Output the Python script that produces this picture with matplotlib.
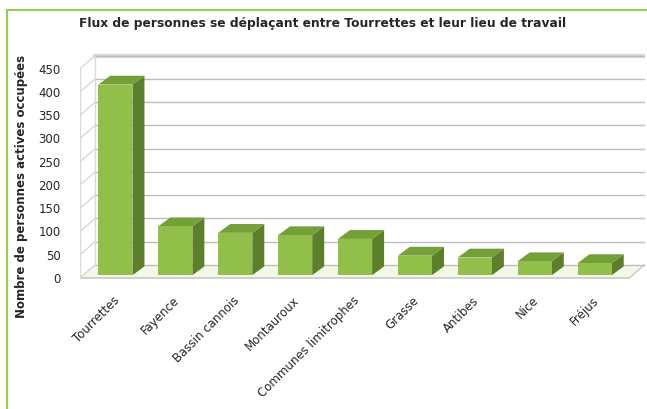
"""Commuter flows from Tourrettes, drawn as an Excel-style 3-D column chart."""

import matplotlib
matplotlib.use("Agg")
import matplotlib.pyplot as plt
from matplotlib.patches import Polygon, Rectangle
from matplotlib.lines import Line2D

# ---- data -------------------------------------------------------------
places = ["Tourrettes", "Fayence", "Bassin cannois", "Montauroux",
          "Communes limitrophes", "Grasse", "Antibes", "Nice", "Fréjus"]
workers = [410, 105, 91, 86, 78, 42, 38, 30, 26]
y_ticks = [0, 50, 100, 150, 200, 250, 300, 350, 400, 450]

title = "Flux de personnes se déplaçant entre Tourrettes et leur lieu de travail"
y_label = "Nombre de personnes actives occupées"

# ---- style ------------------------------------------------------------
FRONT = "#92BF4A"
SIDE = "#5C7F2C"
TOP = "#74A037"
GRID = "#BDBDBD"
FLOOR = "#F3F7E6"
BORDER = "#92D050"
TEXT = "#262626"

bar_w = 0.57          # front face width (category units)
bar_dx, bar_dy = 0.20, 19   # bar depth offset
base_dx, base_dy = 0.04, 6  # bars sit a little behind the floor edge
wall_dx, wall_dy = 0.25, 28  # back wall offset
x_front_left, x_front_right = -0.55, 8.62

fig = plt.figure(figsize=(6.47, 4.09), dpi=100)
ax = fig.add_axes([80 / 647, 0.3147, 565 / 647, 0.557])
ax.set_xlim(-0.551, 8.88)
ax.set_ylim(-5, 485)
for s in ax.spines.values():
    s.set_visible(False)

ymax = y_ticks[-1]

# back wall + floor
ax.add_patch(Polygon([(x_front_left, 0), (x_front_right, 0),
                      (x_front_right + wall_dx, wall_dy),
                      (x_front_left + wall_dx, wall_dy)],
                     closed=True, fc=FLOOR, ec="none", zorder=1))
ax.add_line(Line2D([x_front_left, x_front_right], [0, 0], color="#C8C8C8", lw=1.2, zorder=1))
ax.add_line(Line2D([x_front_right, x_front_right + wall_dx], [0, wall_dy],
                   color="#C8C8C8", lw=1.0, zorder=1))
# top shading of the wall
ax.add_line(Line2D([x_front_left + wall_dx, x_front_right + wall_dx],
                   [ymax + wall_dy, ymax + wall_dy], color="#D9D9D9", lw=3, zorder=1))

for v in y_ticks:
    # back-wall gridline
    ax.add_line(Line2D([x_front_left + wall_dx, x_front_right + wall_dx],
                       [v + wall_dy, v + wall_dy], color=GRID, lw=1.0, zorder=1))
    # side-wall line
    ax.add_line(Line2D([x_front_left, x_front_left + wall_dx],
                       [v, v + wall_dy], color="#D0D0D0", lw=0.8, zorder=1))
ax.add_line(Line2D([x_front_left, x_front_left], [0, ymax], color="#D9D9D9", lw=1.0, zorder=1))
ax.add_line(Line2D([x_front_left + wall_dx, x_front_left + wall_dx],
                   [wall_dy, ymax + wall_dy], color="#D9D9D9", lw=1.0, zorder=1))

# bars
for i, v in enumerate(workers):
    x0 = i - bar_w / 2 + base_dx
    x1 = x0 + bar_w
    y0 = base_dy
    y1 = base_dy + v
    ax.add_patch(Polygon([(x1, y0), (x1 + bar_dx, y0 + bar_dy),
                          (x1 + bar_dx, y1 + bar_dy), (x1, y1)],
                         closed=True, fc=SIDE, ec="none", zorder=3))
    ax.add_patch(Polygon([(x0, y1), (x1, y1), (x1 + bar_dx, y1 + bar_dy),
                          (x0 + bar_dx, y1 + bar_dy)],
                         closed=True, fc=TOP, ec="none", zorder=3))
    ax.add_patch(Rectangle((x0, y0), bar_w, v, fc=FRONT, ec="none", zorder=3))

# axes text
ax.set_yticks(y_ticks)
ax.set_yticklabels([str(t) for t in y_ticks], fontsize=8.5, color=TEXT)
ax.tick_params(axis="y", length=0, pad=14)
ax.set_xticks(range(len(places)))
ax.set_xticklabels(places, rotation=45, ha="right", rotation_mode="anchor",
                   fontsize=8.5, color=TEXT)
ax.tick_params(axis="x", length=0, pad=10)

fig.text(22 / 647, 1 - 186 / 409, y_label, rotation=90, ha="center", va="center",
         fontsize=8.5, fontweight="bold", color=TEXT)
fig.text(323 / 647, 1 - 23 / 409, title, ha="center", va="center",
         fontsize=8.8, fontweight="bold", color=TEXT)

# chart-area border (top and left visible)
fig.add_artist(Line2D([7 / 647, 1], [1 - 10 / 409, 1 - 10 / 409],
                      transform=fig.transFigure, color=BORDER, lw=1.5))
fig.add_artist(Line2D([7 / 647, 7 / 647], [0, 1 - 10 / 409],
                      transform=fig.transFigure, color=BORDER, lw=1.5))

fig.savefig("out.png", dpi=100)
